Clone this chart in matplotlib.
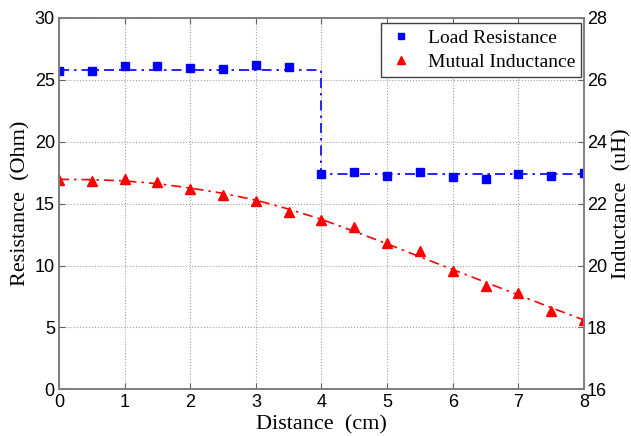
import numpy as np
import matplotlib.pyplot as plt
from matplotlib.lines import Line2D

# distance points (cm)
distance = [0, 0.5, 1, 1.5, 2, 2.5, 3, 3.5, 4, 4.5, 5, 5.5, 6, 6.5, 7, 7.5, 8]

# measured load resistance (Ohm)
resistance = [25.7, 25.67, 26.13, 26.07, 25.97, 25.85, 26.18, 26.05, 17.38,
              17.51, 17.22, 17.55, 17.17, 17.0, 17.38, 17.19, 17.5]
# step fit for the resistance
res_fit_x = [0, 4, 4, 8]
res_fit_y = [25.8, 25.8, 17.35, 17.35]

# measured mutual inductance (uH)
inductance = [22.76, 22.72, 22.79, 22.68, 22.46, 22.28, 22.09, 21.73, 21.46,
              21.24, 20.74, 20.46, 19.82, 19.33, 19.11, 18.52, 18.25]
# smooth fit for the inductance
ind_fit = [22.78, 22.77, 22.73, 22.64, 22.50, 22.33, 22.11, 21.82, 21.49,
           21.10, 20.70, 20.28, 19.87, 19.46, 19.05, 18.64, 18.24]

tick_font = 'Liberation Sans'
label_font = 'Liberation Serif'

fig = plt.figure(figsize=(6.31, 4.36), dpi=100)
ax = fig.add_axes([0.0935, 0.1067, 0.832, 0.853])
ax2 = ax.twinx()

ax.plot(res_fit_x, res_fit_y, color='blue', linestyle='-.', linewidth=1.2, dashes=(6, 3, 1.5, 3))
ax.plot(distance, resistance, linestyle='none', marker='s', color='blue', markersize=5.5)

ax2.plot(distance, ind_fit, color='red', linestyle='-.', linewidth=1.2, dashes=(6, 3, 1.5, 3))
ax2.plot(distance, inductance, linestyle='none', marker='^', color='red', markersize=6.5)

ax.set_xlim(0, 8)
ax.set_ylim(0, 30)
ax2.set_ylim(16, 28)
ax.set_xticks(range(0, 9))
ax.set_yticks(range(0, 31, 5))
ax2.set_yticks(range(16, 29, 2))

ax.grid(True, linestyle=':', color='#a0a0a0', linewidth=0.8)

for a in (ax, ax2):
    for sp in a.spines.values():
        sp.set_color('#808080')
        sp.set_linewidth(1.3)
    a.tick_params(direction='in', length=4, color='#606060', labelsize=13, pad=3)
    for lbl in a.get_xticklabels() + a.get_yticklabels():
        lbl.set_fontfamily(tick_font)
ax.tick_params(top=True, axis='x')
ax2.tick_params(pad=2)

ax.set_xlabel('Distance  (cm)', fontfamily=label_font, fontsize=16, labelpad=3)
ax.set_ylabel('Resistance  (Ohm)', fontfamily=label_font, fontsize=16, labelpad=3)
ax2.set_ylabel('Inductance  (uH)', fontfamily=label_font, fontsize=16, labelpad=4)

handles = [Line2D([], [], linestyle='none', marker='s', color='blue', markersize=5),
           Line2D([], [], linestyle='none', marker='^', color='red', markersize=6)]
leg = ax.legend(handles, ['Load Resistance', 'Mutual Inductance'], loc='upper right',
                bbox_to_anchor=(0.994, 0.985), prop={'family': label_font, 'size': 14},
                fancybox=False, framealpha=1, edgecolor='#404040', borderaxespad=0.0,
                handletextpad=0.6, borderpad=0.3, labelspacing=0.35, handlelength=1.5)
leg.get_frame().set_linewidth(1.0)

fig.savefig('out.png', dpi=100)
